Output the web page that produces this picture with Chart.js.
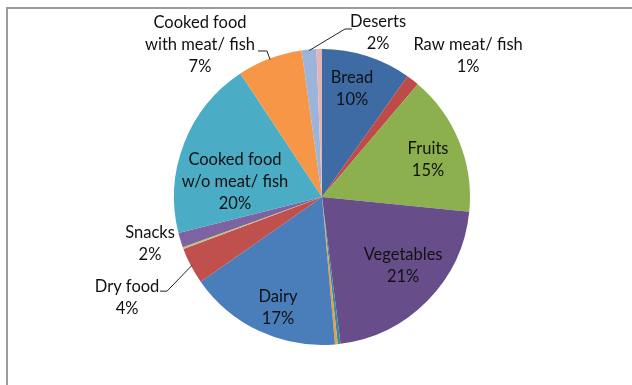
<!DOCTYPE html>
<html>
<head>
<meta charset="utf-8">
<script src="https://cdn.jsdelivr.net/npm/chart.js@4.4.1/dist/chart.umd.min.js"></script>
<style>
  html, body { margin: 0; padding: 0; background: #ffffff; }
  #wrap { position: relative; width: 632px; height: 385px; overflow: hidden; background: #fff; }
  #frame { position: absolute; left: 6px; top: 7px; width: 700px; height: 500px;
           border-left: 2px solid #9c9c9c; border-top: 2px solid #9c9c9c; box-sizing: border-box; }
  #c { position: absolute; left: 0; top: 0; }
</style>
</head>
<body>
<div id="wrap">
  <div id="frame"></div>
  <canvas id="c" width="632" height="385"></canvas>
</div>
<script>
// ---- data (clockwise from 12 o'clock) ----
const categories = [
  "Bread", "Raw meat/ fish", "Fruits", "Vegetables", "", "", "Dairy",
  "Dry food", "", "Snacks", "Cooked food w/o meat/ fish",
  "Cooked food with meat/ fish", "Deserts", ""
];
const shares = [9.8, 1.4, 15.4, 21.4, 0.3, 0.3, 16.7, 4.0, 0.2, 1.6, 19.6, 7.1, 1.6, 0.6];
const sliceColors = [
  "#3E6BA4", "#BE4B48", "#8DB04F", "#674E8B", "#3189A3", "#E6A03C", "#4A7EBB",
  "#C0504D", "#B8C870", "#7F62A1", "#4BACC6", "#F79646", "#9BB4D9", "#E6B4B3"
];
// label text lines per slice (null = no label)
const labelLines = [
  ["Bread"], ["Raw meat/ fish"], ["Fruits"], ["Vegetables"], null, null, ["Dairy"],
  ["Dry food"], null, ["Snacks"], ["Cooked food", "w/o meat/ fish"],
  ["Cooked food", "with meat/ fish"], ["Deserts"], null
];

// ---- label placement: [angle offset from slice middle (deg), radius factor] ----
const placement = {
  0: [-2.1, 0.757], 1: [8.2, 1.372], 2: [2.7, 0.759], 3: [-3.9, 0.719],
  6: [-3.4, 0.807], 7: [0.3, 1.484], 9: [1.6, 1.205], 10: [-11.4, 0.597],
  11: [-18.05, 1.317], 12: [23.9, 1.171]
};
// leader line points relative to label centre: [text end, elbow], then to the slice edge
const leaders = {
  12: [[-26, -4], [-33, -4]],
  11: [[58, 6], [67, 6]],
  7: [[33, -7], [40, -7]]
};

const FONT = '16.5px Lato, "Open Sans", sans-serif';
const LINE_H = 22;

const labelPlugin = {
  id: 'sliceLabels',
  afterDatasetsDraw(chart) {
    const ctx = chart.ctx;
    const meta = chart.getDatasetMeta(0);
    ctx.save();
    ctx.font = FONT;
    ctx.fillStyle = '#111';
    ctx.textAlign = 'center';
    ctx.textBaseline = 'middle';
    meta.data.forEach((arc, i) => {
      const lines = labelLines[i];
      if (!lines) return;
      const p = placement[i];
      const mid = (arc.startAngle + arc.endAngle) / 2;
      const ang = mid + p[0] * Math.PI / 180;
      const r = arc.outerRadius;
      const lx = arc.x + Math.cos(ang) * r * p[1];
      const ly = arc.y + Math.sin(ang) * r * p[1];
      const all = lines.concat([Math.round(shares[i]) + '%']);
      const top = ly - (all.length - 1) * LINE_H / 2;
      all.forEach((t, j) => ctx.fillText(t, lx, top + j * LINE_H));
      const ld = leaders[i];
      if (ld) {
        const ex = arc.x + Math.cos(mid) * (r - 1);
        const ey = arc.y + Math.sin(mid) * (r - 1);
        ctx.beginPath();
        ctx.strokeStyle = '#222';
        ctx.lineWidth = 1;
        ctx.moveTo(lx + ld[0][0], ly + ld[0][1]);
        ctx.lineTo(lx + ld[1][0], ly + ld[1][1]);
        ctx.lineTo(ex, ey);
        ctx.stroke();
      }
    });
    ctx.restore();
  }
};

new Chart(document.getElementById('c'), {
  type: 'pie',
  data: {
    labels: categories,
    datasets: [{
      data: shares,
      backgroundColor: sliceColors,
      borderWidth: 0
    }]
  },
  options: {
    responsive: false,
    animation: false,
    layout: { padding: { top: 49, bottom: 40, left: 12, right: 0 } },
    plugins: { legend: { display: false }, tooltip: { enabled: false } }
  },
  plugins: [labelPlugin]
});
</script>
</body>
</html>
